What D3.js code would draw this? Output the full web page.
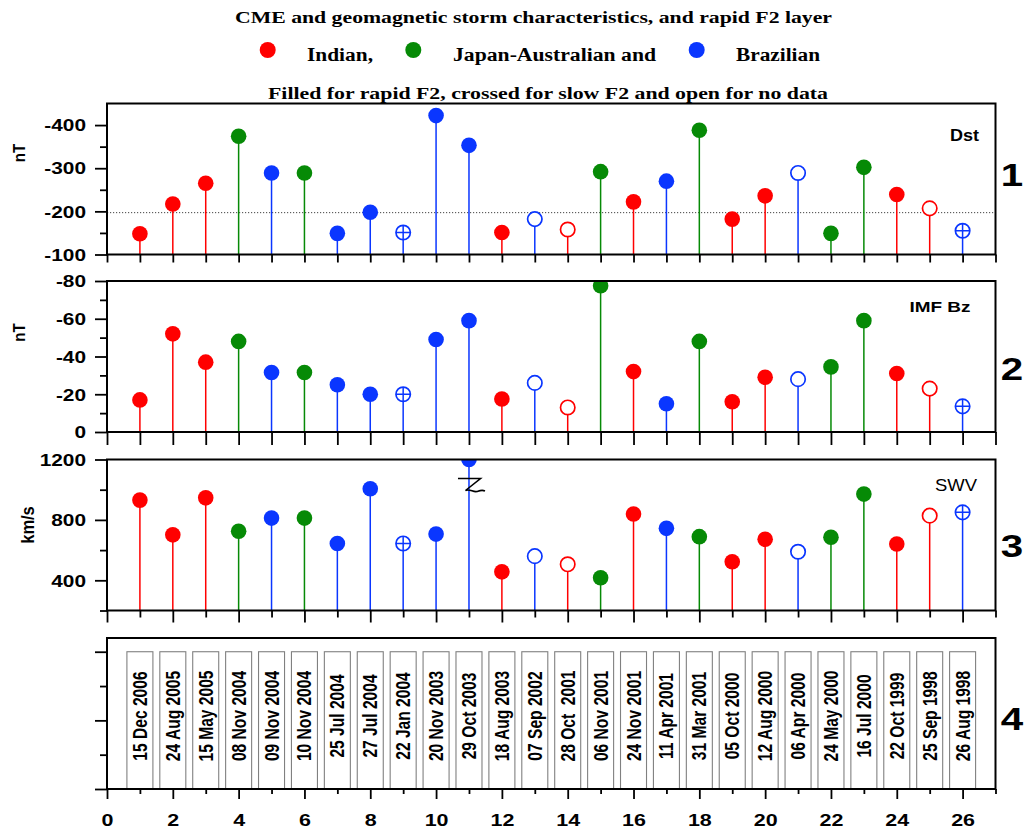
<!DOCTYPE html>
<html>
<head>
<meta charset="utf-8">
<script src="https://cdn.jsdelivr.net/npm/d3@7"></script>
<style>
  body { margin: 0; background: #fff; }
  svg { display: block; }
</style>
</head>
<body>
<svg id="chart" width="1028" height="832"></svg>
<script>
// ---- data -----------------------------------------------------------------
const eventIndex = d3.range(1, 27);
const eventDates = [
  "15 Dec 2006", "24 Aug 2005", "15 May 2005", "08 Nov 2004", "09 Nov 2004",
  "10 Nov 2004", "25 Jul 2004", "27 Jul 2004", "22 Jan 2004", "20 Nov 2003",
  "29 Oct 2003", "18 Aug 2003", "07 Sep 2002", "28 Oct  2001", "06 Nov 2001",
  "24 Nov 2001", "11 Apr 2001", "31 Mar 2001", "05 Oct 2000", "12 Aug 2000",
  "06 Apr 2000", "24 May 2000", "16 Jul 2000", "22 Oct 1999", "25 Sep 1998",
  "26 Aug 1998"
];
// IN = Indian, JA = Japan-Australian, BR = Brazilian
const regions = [
  "IN", "IN", "IN", "JA", "BR", "JA", "BR", "BR", "BR", "BR", "BR", "IN", "BR",
  "IN", "JA", "IN", "BR", "JA", "IN", "IN", "BR", "JA", "JA", "IN", "IN", "BR"
];
// rapid = filled, slow = crossed, none = open
const f2Response = [
  "rapid", "rapid", "rapid", "rapid", "rapid", "rapid", "rapid", "rapid", "slow",
  "rapid", "rapid", "rapid", "none", "none", "rapid", "rapid", "rapid", "rapid",
  "rapid", "rapid", "none", "rapid", "rapid", "rapid", "none", "slow"
];
const dstValues = [
  -148, -217, -265, -374, -289, -289, -149, -198, -151, -422, -353, -151, -182,
  -158, -292, -222, -270, -388, -182, -236, -289, -149, -302, -239, -207, -155
];
const bzValues = [
  -17, -52, -37, -48, -31.5, -31.5, -25, -20, -20, -49, -59, -17.5, -26,
  -13, -77.5, -32, -15, -48, -16, -29, -28, -34.5, -59, -31, -23, -13.6
];
const swvValues = [
  931, 701, 946, 725, 812, 812, 644, 1006, 644, 706, 1200, 456, 560,
  506, 417, 839, 744, 689, 523, 672, 589, 685, 971, 640, 828, 850
];
const dstThreshold = -197;
const dstMajorTicks = [-100, -200, -300, -400];
const dstMinorTicks = [-150, -250, -350];
const bzMajorTicks = [0, -20, -40, -60, -80];
const bzMinorTicks = [-10, -30, -50, -70];
const swvMajorTicks = [400, 800, 1200];
const swvMinorTicks = [200, 600, 1000];
const xLabelTicks = d3.range(0, 27, 2);
const legendKeys = ["IN", "JA", "BR"];
const legendLabels = ["Indian,", "Japan-Australian and", "Brazilian"];
const titleLines = [
  "CME and geomagnetic storm characteristics, and rapid F2 layer",
  "Filled for rapid F2, crossed for slow F2 and open for no data"
];
const panelNames = ["Dst", "IMF Bz", "SWV"];
const panelNumbers = ["1", "2", "3", "4"];

// ---- setup ----------------------------------------------------------------
const regionColor = { IN: "#ff0000", JA: "#068a06", BR: "#0a36ff" };
const SANS = "Arial, 'Liberation Sans', sans-serif";
const SERIF = "'Times New Roman', 'Liberation Serif', serif";
const svg = d3.select("#chart");

const x = d3.scaleLinear().domain([0, 27]).range([107, 995.5]);

const panels = [
  { y: d3.scaleLinear().domain([-100, -450]).range([254.5, 103.5]) },
  { y: d3.scaleLinear().domain([0, -80]).range([432, 281]) },
  { y: d3.scaleLinear().domain([200, 1200]).range([610.5, 459.5]) },
  { y: d3.scaleLinear().domain([0, 4.4]).range([789, 638]) }
];

// stretch a text horizontally by factor k
function widen(sel, k) {
  sel.each(function () {
    const L = this.getComputedTextLength();
    this.setAttribute("textLength", L * k);
    this.setAttribute("lengthAdjust", "spacingAndGlyphs");
  });
}
function fitWidth(sel, w) {
  sel.attr("textLength", w).attr("lengthAdjust", "spacingAndGlyphs");
}

function styleAxis(g) {
  g.select(".domain").remove();
  g.selectAll(".tick line").attr("stroke", "#000").attr("stroke-width", 1.8);
  g.selectAll(".tick text")
    .attr("font-family", SANS).attr("font-weight", "bold")
    .attr("fill", "#000");
}

function yAxis(p, major, minor, size) {
  const g = svg.append("g").attr("transform", `translate(${x(0)},0)`);
  const a = g.append("g").call(
    d3.axisLeft(p.y).tickValues(major).tickSize(12).tickPadding(9)
      .tickFormat(d => String(d))
  );
  const b = g.append("g").call(
    d3.axisLeft(p.y).tickValues(minor).tickSize(7).tickFormat("")
  );
  styleAxis(a); styleAxis(b);
  a.selectAll(".tick text").attr("font-size", size).attr("dy", "0.36em");
  widen(a.selectAll(".tick text"), 1.3);
}

function xTicks(p, len, lenOdd) {
  const base = p.y.range()[0];
  const g = svg.append("g").attr("transform", `translate(0,${base})`);
  const ev = g.append("g").call(
    d3.axisBottom(x).tickValues(d3.range(0, 28, 2)).tickSize(len).tickFormat("")
  );
  const od = g.append("g").call(
    d3.axisBottom(x).tickValues(d3.range(1, 28, 2)).tickSize(lenOdd).tickFormat("")
  );
  styleAxis(ev); styleAxis(od);
  return ev;
}

// clip regions so markers stay inside each frame
panels.forEach((p, i) => {
  const [b, t] = p.y.range();
  svg.append("clipPath").attr("id", "clip" + i)
    .append("rect").attr("x", x(0)).attr("y", t)
    .attr("width", x(27) - x(0)).attr("height", b - t);
});

function stemPanel(i, values) {
  const p = panels[i];
  const base = p.y.range()[0];
  const g = svg.append("g").attr("clip-path", `url(#clip${i})`);
  const pts = values.map((v, k) => ({
    n: eventIndex[k], v, r: regions[k], f: f2Response[k]
  }));
  g.selectAll("line.stem").data(pts).join("line")
    .attr("class", "stem")
    .attr("x1", d => x(d.n)).attr("x2", d => x(d.n))
    .attr("y1", base).attr("y2", d => p.y(d.v))
    .attr("stroke", d => regionColor[d.r]).attr("stroke-width", 1.5);
  const m = g.selectAll("g.mk").data(pts).join("g")
    .attr("class", "mk")
    .attr("transform", d => `translate(${x(d.n)},${p.y(d.v)})`);
  m.filter(d => d.f === "rapid").append("circle")
    .attr("r", 7.8).attr("fill", d => regionColor[d.r]);
  m.filter(d => d.f !== "rapid").append("circle")
    .attr("r", 7.2).attr("fill", "#fff")
    .attr("stroke", d => regionColor[d.r]).attr("stroke-width", 1.7);
  const cr = m.filter(d => d.f === "slow");
  cr.append("line").attr("x1", -7.2).attr("x2", 7.2)
    .attr("stroke", d => regionColor[d.r]).attr("stroke-width", 1.5);
  cr.append("line").attr("y1", -7.2).attr("y2", 7.2)
    .attr("stroke", d => regionColor[d.r]).attr("stroke-width", 1.5);
}

// ---- panel 1: Dst ----------------------------------------------------------
svg.append("line")
  .attr("x1", x(0)).attr("x2", x(27))
  .attr("y1", panels[0].y(dstThreshold)).attr("y2", panels[0].y(dstThreshold))
  .attr("stroke", "#444").attr("stroke-width", 1).attr("stroke-dasharray", "1.2,1.8");
stemPanel(0, dstValues);
yAxis(panels[0], dstMajorTicks, dstMinorTicks, 16);
xTicks(panels[0], 8, 8);

// ---- panel 2: IMF Bz -------------------------------------------------------
stemPanel(1, bzValues);
yAxis(panels[1], bzMajorTicks, bzMinorTicks, 16);
xTicks(panels[1], 13, 13);

// ---- panel 3: solar wind speed ---------------------------------------------
stemPanel(2, swvValues);
yAxis(panels[2], swvMajorTicks, swvMinorTicks, 16);
xTicks(panels[2], 12, 7);

// axis break mark on the off-scale event 11
{
  const bx = x(11), by = panels[2].y.range()[1] + 19;
  svg.append("path")
    .attr("d", `M${bx - 11},${by} H${bx + 11.5} L${bx - 3.5},${by + 12}
                C${bx + 1},${by + 10} ${bx + 4},${by + 14} ${bx + 8},${by + 13}
                C${bx + 11},${by + 12} ${bx + 13},${by + 11} ${bx + 16},${by + 12.5}`)
    .attr("fill", "none").attr("stroke", "#000").attr("stroke-width", 1.6);
}

// ---- panel 4: event dates --------------------------------------------------
{
  const p = panels[3];
  const g = svg.append("g");
  const bw = 26;
  g.selectAll("rect").data(eventIndex).join("rect")
    .attr("x", d => x(d) - bw / 2).attr("y", p.y(4))
    .attr("width", bw).attr("height", p.y(0) - p.y(4))
    .attr("fill", "#fff").attr("stroke", "#808080").attr("stroke-width", 1.1);
  g.selectAll("text").data(eventIndex).join("text")
    .attr("transform", d => `translate(${x(d)},716) scale(1.25,1) rotate(-90)`)
    .attr("text-anchor", "middle").attr("dy", "0.36em")
    .attr("font-family", SANS).attr("font-weight", "bold").attr("font-size", 15.6)
    .style("white-space", "pre")
    .text((d, k) => eventDates[k]);

  const ag = svg.append("g").attr("transform", `translate(${x(0)},0)`);
  const a = ag.append("g").call(d3.axisLeft(p.y).tickValues([0, 2, 4]).tickSize(12).tickFormat(""));
  const b = ag.append("g").call(d3.axisLeft(p.y).tickValues([1, 3]).tickSize(7).tickFormat(""));
  styleAxis(a); styleAxis(b);

  xTicks(p, 10, 5);
  const lab = svg.append("g").attr("transform", `translate(0,${p.y.range()[0]})`)
    .call(d3.axisBottom(x).tickValues(xLabelTicks).tickSize(0).tickFormat(d => String(d)));
  lab.select(".domain").remove();
  lab.selectAll(".tick text")
    .attr("y", 37).attr("dy", null)
    .attr("font-family", SANS).attr("font-weight", "bold")
    .attr("font-size", 16.5).attr("fill", "#000");
  widen(lab.selectAll(".tick text"), 1.3);
}

// ---- frames ----------------------------------------------------------------
panels.forEach(p => {
  const [b, t] = p.y.range();
  svg.append("rect")
    .attr("x", x(0)).attr("y", t)
    .attr("width", x(27) - x(0)).attr("height", b - t)
    .attr("fill", "none").attr("stroke", "#000").attr("stroke-width", 2);
});

// ---- panel captions --------------------------------------------------------
fitWidth(svg.append("text").attr("x", 950).attr("y", 140.5)
  .attr("font-family", SANS).attr("font-weight", "bold").attr("font-size", 16)
  .text(panelNames[0]), 29);
fitWidth(svg.append("text").attr("x", 909.5).attr("y", 312)
  .attr("font-family", SANS).attr("font-weight", "bold").attr("font-size", 15.5)
  .style("white-space", "pre")
  .text(panelNames[1]), 61);
fitWidth(svg.append("text").attr("x", 935).attr("y", 491)
  .attr("font-family", SANS).attr("font-size", 16.5)
  .text(panelNames[2]), 42);

const numY = [186, 380, 557, 730];
panelNumbers.forEach((t, i) => {
  const el = svg.append("text").attr("x", 1012).attr("y", numY[i])
    .attr("text-anchor", "middle")
    .attr("font-family", SANS).attr("font-weight", "bold").attr("font-size", 31)
    .text(t);
  widen(el, 1.3);
});

// y-axis units
[["nT", 19, 153, 15], ["nT", 19, 332.5, 15], ["km/s", 27.5, 525, 16.5]].forEach(([t, cx, cy, fs]) => {
  svg.append("text")
    .attr("transform", `translate(${cx},${cy}) scale(1.12,1) rotate(-90)`)
    .attr("text-anchor", "middle").attr("dy", "0.36em")
    .attr("font-family", SANS).attr("font-weight", "bold").attr("font-size", fs)
    .text(t);
});

// ---- heading and legend ----------------------------------------------------
fitWidth(svg.append("text").attr("x", 235).attr("y", 23)
  .attr("font-family", SERIF).attr("font-weight", "bold").attr("font-size", 17.5)
  .text(titleLines[0]), 597);
fitWidth(svg.append("text").attr("x", 268).attr("y", 99)
  .attr("font-family", SERIF).attr("font-weight", "bold").attr("font-size", 17.5)
  .text(titleLines[1]), 560);

const legendDotX = [267.7, 413.3, 696.7];
const legendTextX = [307, 453, 736];
const legendTextW = [66, 203, 84];
legendKeys.forEach((k, i) => {
  svg.append("circle").attr("cx", legendDotX[i]).attr("cy", 50)
    .attr("r", 8).attr("fill", regionColor[k]);
  fitWidth(svg.append("text").attr("x", legendTextX[i]).attr("y", 61)
    .attr("font-family", SERIF).attr("font-weight", "bold").attr("font-size", 18.5)
    .text(legendLabels[i]), legendTextW[i]);
});
</script>
</body>
</html>
